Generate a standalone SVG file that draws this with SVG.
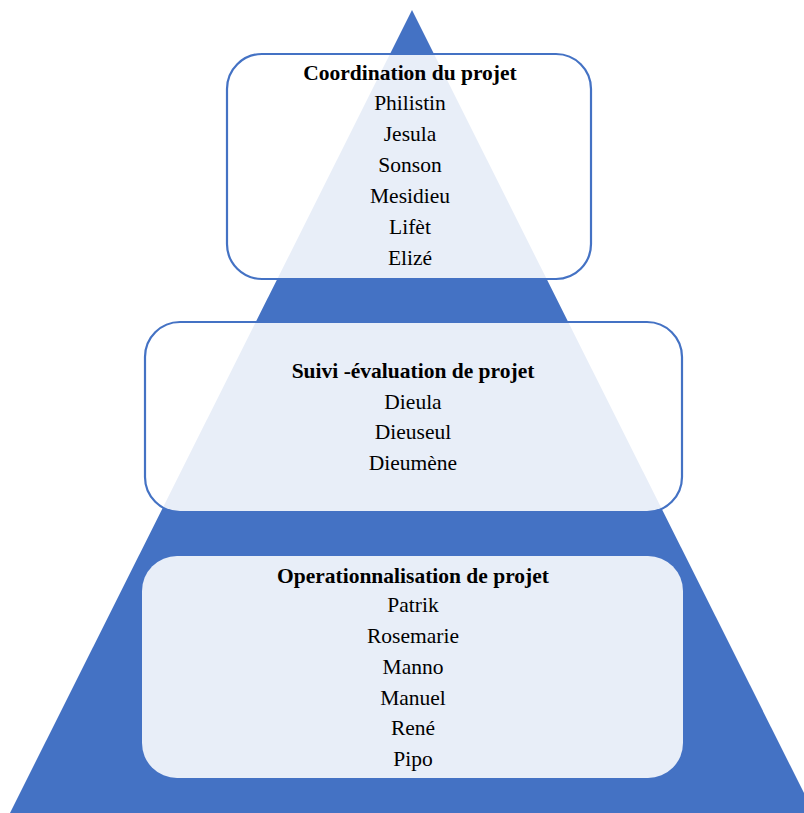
<svg xmlns="http://www.w3.org/2000/svg" width="804" height="813" viewBox="0 0 804 813">
<style>
.box{fill:#ffffff;fill-opacity:0.88;stroke:#4472C4;stroke-width:2.2}
.box3{fill:#ffffff;fill-opacity:0.88;stroke:none}
text{font-family:"Liberation Serif","Times New Roman",serif;font-size:21.5px;fill:#000;text-anchor:middle}
.t{font-weight:bold}
</style>
<rect width="804" height="813" fill="#ffffff"/>
<polygon id="pyramid" points="412,10 10,813 814,813" fill="#4472C4"/>
<g id="coordination">
<rect class="box" x="227" y="54" width="364" height="225" rx="35" ry="35"/>
<text class="t" x="410" y="80">Coordination du projet</text>
<text x="410" y="110">Philistin</text>
<text x="410" y="141">Jesula</text>
<text x="410" y="172">Sonson</text>
<text x="410" y="203">Mesidieu</text>
<text x="410" y="234">Lifèt</text>
<text x="410" y="265">Elizé</text>
</g>
<g id="suivi">
<rect class="box" x="145" y="322" width="537" height="190" rx="35" ry="35"/>
<text class="t" x="413" y="378">Suivi -évaluation de projet</text>
<text x="413" y="409">Dieula</text>
<text x="413" y="439">Dieuseul</text>
<text x="413" y="470">Dieumène</text>
</g>
<g id="operationnalisation">
<rect class="box3" x="142" y="556" width="541" height="222" rx="35" ry="35"/>
<text class="t" x="413" y="583">Operationnalisation de projet</text>
<text x="413" y="612">Patrik</text>
<text x="413" y="643">Rosemarie</text>
<text x="413" y="674">Manno</text>
<text x="413" y="705">Manuel</text>
<text x="413" y="735">René</text>
<text x="413" y="766">Pipo</text>
</g>
<g id="connectors"/>
</svg>
